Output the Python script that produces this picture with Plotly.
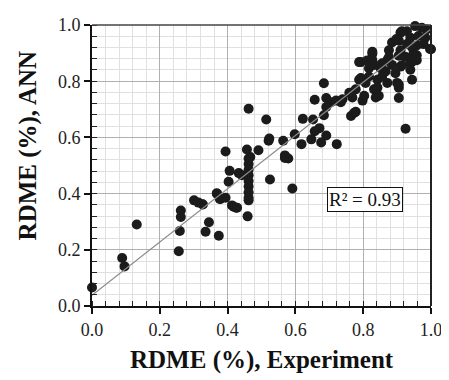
import plotly.graph_objects as go

exp_vals = [
    0.000, 0.089, 0.096, 0.132, 0.262, 0.262, 0.259, 0.256,
    0.301, 0.314, 0.327, 0.345, 0.335, 0.374, 0.369, 0.377,
    0.394, 0.457, 0.491, 0.569, 0.406, 0.403, 0.442, 0.433,
    0.462, 0.462, 0.462, 0.462, 0.462, 0.462, 0.462, 0.462, 0.462,
    0.459, 0.525, 0.368, 0.379, 0.394, 0.326, 0.413, 0.425, 0.418, 0.428,
    0.591, 0.521,
    0.684, 0.657, 0.691, 0.705, 0.720, 0.734, 0.691, 0.764, 0.778,
    0.764, 0.773, 0.778, 0.684, 0.652, 0.622, 0.514, 0.462,
    0.671, 0.657, 0.647, 0.598, 0.691, 0.676, 0.722, 0.618, 0.564, 0.523,
    0.569, 0.579, 0.467, 0.925,
    0.953, 0.973, 0.910, 0.929, 0.939, 0.963, 0.983, 0.905, 0.885,
    0.929, 0.958, 0.978, 0.997, 0.876, 0.910, 0.948, 0.924, 0.871,
    0.958, 0.939, 0.827, 0.822, 0.832, 0.885, 0.910, 0.939, 0.861,
    0.793, 0.812, 0.876, 0.905, 0.914, 0.895, 0.793, 0.817, 0.807,
    0.842, 0.856, 0.871, 0.900, 0.905, 0.832, 0.842, 0.846, 0.837,
    0.803, 0.798, 0.768, 0.759, 0.739, 0.905, 0.944, 0.905, 0.788,
    0.788, 0.851, 0.866, 0.944, 0.914, 0.987, 1.000, 0.944, 0.958,
    0.827, 0.827, 0.817, 0.856, 0.898,
]
ann_vals = [
    0.066, 0.171, 0.141, 0.290, 0.340, 0.317, 0.267, 0.195,
    0.376, 0.368, 0.361, 0.298, 0.264, 0.250, 0.399, 0.381,
    0.550, 0.557, 0.554, 0.527, 0.481, 0.442, 0.465, 0.473,
    0.525, 0.505, 0.485, 0.465, 0.445, 0.425, 0.405, 0.385, 0.376,
    0.319, 0.450, 0.401, 0.381, 0.385, 0.362, 0.358, 0.350, 0.353, 0.350,
    0.418, 0.588,
    0.793, 0.734, 0.740, 0.725, 0.731, 0.725, 0.708, 0.759, 0.771,
    0.676, 0.687, 0.691, 0.679, 0.664, 0.666, 0.664, 0.702,
    0.633, 0.622, 0.593, 0.611, 0.607, 0.582, 0.576, 0.576, 0.588, 0.596,
    0.536, 0.525, 0.530, 0.631,
    0.996, 0.990, 0.973, 0.978, 0.955, 0.961, 0.955, 0.944, 0.938,
    0.932, 0.927, 0.932, 0.915, 0.910, 0.910, 0.898, 0.887, 0.875,
    0.875, 0.864, 0.898, 0.875, 0.858, 0.858, 0.852, 0.841, 0.835,
    0.868, 0.874, 0.886, 0.891, 0.857, 0.828, 0.811, 0.817, 0.794,
    0.805, 0.817, 0.794, 0.794, 0.777, 0.771, 0.777, 0.748, 0.742,
    0.748, 0.731, 0.742, 0.759, 0.736, 0.740, 0.805, 0.788, 0.868,
    0.805, 0.846, 0.835, 0.921, 0.978, 0.984, 0.914, 0.869, 0.892,
    0.905, 0.875, 0.846, 0.864, 0.950,
]

# Trendline shown on the chart
trend_slope = 0.948
trend_intercept = 0.038
trend_x = [0.0, 1.0]
r2_label = "R² = 0.93"

x_ticks = [0.0, 0.2, 0.4, 0.6, 0.8, 1.0]
tick_text = ["0.0", "0.2", "0.4", "0.6", "0.8", "1.0"]

serif = "Liberation Serif, Times New Roman, serif"

fig = go.Figure()
fig.add_trace(go.Scatter(
    x=exp_vals, y=ann_vals, mode="markers",
    marker=dict(color="#1b1b1b", size=10, line=dict(width=0)),
    cliponaxis=False, showlegend=False, hoverinfo="skip",
))
fig.add_trace(go.Scatter(
    x=trend_x, y=[trend_slope * v + trend_intercept for v in trend_x],
    mode="lines", line=dict(color="#8c8c8c", width=1.2),
    showlegend=False, hoverinfo="skip",
))

axis_common = dict(
    range=[0, 1], tickvals=x_ticks, ticktext=tick_text,
    showgrid=True, gridcolor="#b0b0b0", gridwidth=1,
    minor=dict(dtick=0.04, showgrid=True, gridcolor="#e0e0e0", gridwidth=1,
               ticks="inside", ticklen=5, tickcolor="#222", tickwidth=1),
    ticks="outside", ticklen=6, tickcolor="#111", tickwidth=2,
    showline=True, linecolor="#111", linewidth=2,
    zeroline=False, fixedrange=True,
    ticklabeloverflow="allow",
    tickfont=dict(family=serif, size=18, color="#222"),
)

fig.update_xaxes(**axis_common)
fig.update_yaxes(**axis_common)

# top and right frame lines
fig.add_shape(type="line", xref="paper", yref="paper", x0=0, x1=1, y0=1, y1=1,
              line=dict(color="#444", width=1.5))
fig.add_shape(type="line", xref="paper", yref="paper", x0=1, x1=1, y0=0, y1=1,
              line=dict(color="#222", width=2))

fig.add_annotation(
    x=0.805, y=0.378, xref="x", yref="y", text=r2_label, showarrow=False,
    font=dict(family=serif, size=19, color="#111"),
    bgcolor="white", bordercolor="#111", borderwidth=1, borderpad=1,
)
fig.add_annotation(
    x=0.5, y=-0.192, xref="paper", yref="paper", text="<b>RDME (%), Experiment</b>",
    showarrow=False, font=dict(family=serif, size=25, color="#111"),
    xanchor="center", yanchor="middle",
)
fig.add_annotation(
    x=-0.19, y=0.57, xref="paper", yref="paper", text="<b>RDME (%), ANN</b>",
    showarrow=False, textangle=-90, font=dict(family=serif, size=25, color="#111"),
    xanchor="center", yanchor="middle",
)

fig.update_layout(
    width=441, height=372,
    margin=dict(l=84, r=15, t=7, b=74),
    paper_bgcolor="white", plot_bgcolor="white",
)

fig.write_html("out.html")
